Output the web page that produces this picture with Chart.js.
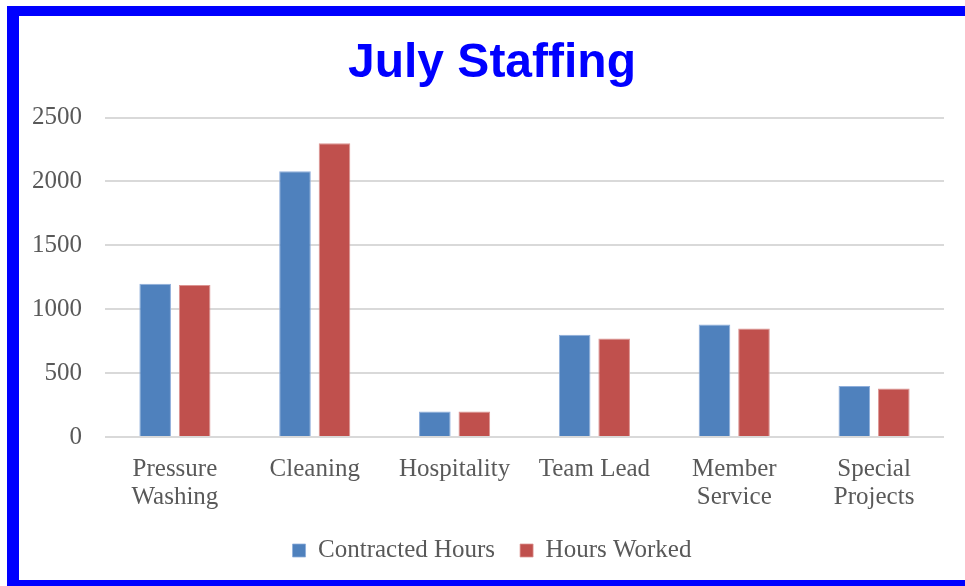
<!DOCTYPE html>
<html>
<head>
<meta charset="utf-8">
<script src="https://cdn.jsdelivr.net/npm/chart.js@4/dist/chart.umd.min.js"></script>
<style>
  html, body { margin: 0; padding: 0; width: 965px; height: 586px; overflow: hidden; background: #fff; }
  #frame { position: absolute; left: 7px; top: 6px; width: 980px; height: 564px;
           border-left: 12px solid #0000ff; border-top: 10px solid #0000ff; border-bottom: 12px solid #0000ff; }
  #wrap { position: absolute; left: 19px; top: 16px; width: 946px; height: 564px; }
</style>
</head>
<body>
<div id="frame"></div>
<div id="wrap"><canvas id="c"></canvas></div>
<script>
const categories = [["Pressure", "Washing"], "Cleaning", "Hospitality", "Team Lead", ["Member", "Service"], ["Special", "Projects"]];
const contractedHours = [1200, 2080, 200, 800, 880, 400];
const hoursWorked = [1190, 2300, 200, 770, 850, 380];
const yTicks = [0, 500, 1000, 1500, 2000, 2500];
const seriesNames = ["Contracted Hours", "Hours Worked"];
const chartTitle = "July Staffing";

const labelFont = { family: "'Liberation Serif', serif", size: 25, lineHeight: 1.12 };
const textColor = "#595959";

new Chart(document.getElementById("c"), {
  type: "bar",
  data: {
    labels: categories,
    datasets: [
      { label: seriesNames[0], data: contractedHours, backgroundColor: "#4f81bd", borderColor: "#8eaedb", borderWidth: {top:1,left:1,right:1,bottom:0},
        categoryPercentage: 0.565, barPercentage: 0.8, yAxisID: "y" },
      { label: seriesNames[1], data: hoursWorked, backgroundColor: "#c0504d", borderColor: "#dc9492", borderWidth: {top:1,left:1,right:1,bottom:0},
        categoryPercentage: 0.565, barPercentage: 0.8, yAxisID: "y" }
    ]
  },
  options: {
    responsive: true,
    maintainAspectRatio: false,
    animation: false,
    layout: { padding: { left: 0, right: 0, top: 0, bottom: 7 } },
    plugins: {
      title: {
        display: true,
        text: chartTitle,
        color: "#0000ff",
        font: { family: "'Liberation Sans', Arial, sans-serif", size: 48, weight: "bold", lineHeight: 1.2 },
        padding: { top: 19, bottom: 25 }
      },
      legend: {
        position: "bottom",
        labels: {
          color: textColor,
          font: labelFont,
          boxWidth: 13,
          boxHeight: 13,
          padding: 25
        }
      },
      tooltip: { enabled: false }
    },
    scales: {
      x: {
        afterFit: (scale) => { scale.height = 76; },
        grid: { display: false, drawTicks: false },
        border: { display: false },
        ticks: { color: textColor, font: labelFont, padding: 18, maxRotation: 0, autoSkip: false }
      },
      y: {
        min: 0,
        max: 2500,
        afterBuildTicks: (scale) => { scale.ticks = yTicks.map(v => ({ value: v })); },
        afterFit: (scale) => { scale.width = 86; },
        grid: { color: "#d9d9d9", lineWidth: 2, drawTicks: false },
        border: { display: false },
        ticks: { color: textColor, font: labelFont, padding: 23, callback: (v) => String(v) }
      },
      yRight: {
        type: "linear",
        position: "right",
        display: true,
        afterFit: (scale) => { scale.width = 21; },
        grid: { display: false, drawTicks: false },
        border: { display: false },
        ticks: { display: false }
      }
    }
  }
});
</script>
</body>
</html>
